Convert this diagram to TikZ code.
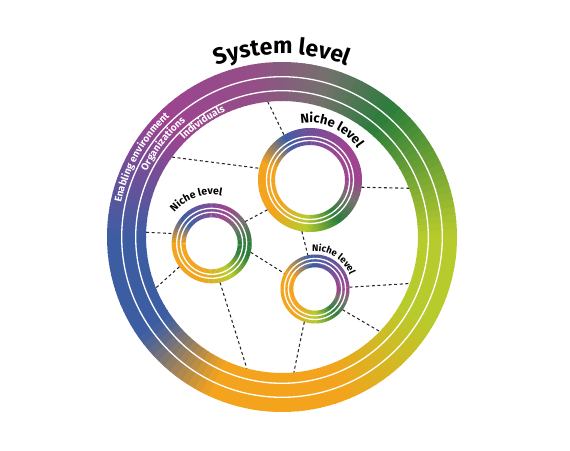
\documentclass[tikz,border=0pt]{standalone}
\usepackage{fontspec}
\newfontfamily\lblfont{Fira Sans}
\usetikzlibrary{decorations.text}
\definecolor{cyg}{HTML}{B8CB2C}
\definecolor{cgr}{HTML}{2B7D3B}
\definecolor{cgy}{HTML}{76706E}
\definecolor{cmg}{HTML}{9D4390}
\definecolor{cbl}{HTML}{3D5DA3}
\definecolor{cor}{HTML}{F3A31C}
\colorlet{cpu}{cbl!45!cmg}
\colorlet{cmv}{cmg!75!cgy}
\tikzset{dashlink/.style={draw=black!85,line width=1.05pt,dash pattern=on 3pt off 2.6pt},
  hub/.style={circle,inner sep=0pt,outer sep=0pt,minimum size=#1},
  splitline/.style={draw=white,line width=1.3pt},
  arctext/.style={decorate,decoration={text along path,text align=center,text={#1}}},
  bandtext/.style={decorate,decoration={text along path,text align=center,text color=white,text={#1}}}}
% ring with a conic colour gradient: centre, inner r, outer r, angle/angle/colour/colour list
\newcommand{\gradring}[4]{%
  \begin{scope}[shift={#1}]
    \foreach \a/\b/\ca/\cb in {#4}{
      \pgfmathtruncatemacro\n{max(1,round((\b-\a)/2.5))}
      \foreach \k in {1,...,\n}{
        \pgfmathsetmacro\angA{\a+(\k-1)*(\b-\a)/\n}
        \pgfmathsetmacro\angB{\a+\k*(\b-\a)/\n+0.4}
        \pgfmathtruncatemacro\p{100*(\k-0.5)/\n}
        \fill[fill=\cb!\p!\ca] (\angA:#2) arc[start angle=\angA,end angle=\angB,radius=#2]
          -- (\angB:#3) arc[start angle=\angB,end angle=\angA,radius=#3] -- cycle;
      }
    }
  \end{scope}}

\begin{document}
\begin{tikzpicture}[x=1pt,y=1pt]
  \useasboundingbox (0,0) rectangle (570,450);

  % system ring + niches
  \gradring{(282,213)}{136}{175}{0/50/cyg/cgr, 50/75/cgr/cgy, 75/100/cgy/cmv, 100/135/cmv/cmg, 135/180/cmg/cbl, 180/215/cbl/cbl, 215/245/cbl/cor, 245/290/cor/cor, 290/330/cor/cyg, 330/360/cyg/cyg}
  \gradring{(310,270)}{35}{52}{0/40/cmg/cmg, 40/90/cmg/cpu, 90/120/cpu/cbl, 120/160/cbl/cor, 160/220/cor/cor, 220/265/cor/cyg, 265/305/cyg/cgr, 305/335/cgr/cgy, 335/360/cgy/cmg}
  \gradring{(211.7,206.7)}{26}{40}{0/35/cgr/cgy, 35/65/cgy/cmg, 65/100/cmg/cpu, 100/140/cpu/cbl, 140/180/cbl/cor, 180/250/cor/cor, 250/300/cor/cyg, 300/340/cyg/cgr, 340/360/cgr/cgr}
  \gradring{(315,161)}{21.7}{34.5}{0/45/cmg/cpu, 45/100/cpu/cbl, 100/150/cbl/cor, 150/230/cor/cor, 230/270/cor/cyg, 270/310/cyg/cgr, 310/340/cgr/cgy, 340/360/cgy/cmg}

  % white separators
  \draw[splitline] (282,213) circle[radius=160.3] (282,213) circle[radius=146.3];
  \draw[splitline] (310,270) circle[radius=43.5] (310,270) circle[radius=39.5];
  \draw[splitline] (211.7,206.7) circle[radius=35] (211.7,206.7) circle[radius=31];
  \draw[splitline] (315,161) circle[radius=30.5] (315,161) circle[radius=26.7];

  % anchors
  \node (sys) [hub=272pt] at (282,213) {};
  \node (n1) [hub=104pt] at (310,270) {};
  \node (n2) [hub=80pt] at (211.7,206.7) {};
  \node (n3) [hub=69pt] at (315,161) {};

  % links
  \draw[dashlink] (sys.96) -- (n1.120);
  \draw[dashlink] (sys.144) -- (n1.167);
  \draw[dashlink] (n1.-8) -- (sys.21);
  \draw[dashlink] (n1.215) -- (n2.33);
  \draw[dashlink] (sys.178) -- (n2.166);
  \draw[dashlink] (n1.261) -- (n3.102);
  \draw[dashlink] (n2.-13) -- (n3.153);
  \draw[dashlink] (n2.216) -- (sys.202);
  \draw[dashlink] (n2.282) -- (sys.255);
  \draw[dashlink] (n3.252) -- (sys.275);
  \draw[dashlink] (n3.3) -- (sys.-20);
  \draw[dashlink] (n3.-37) -- (sys.-44);

  % labels
  \path[arctext={|\lblfont\bfseries\fontsize{23pt}{23pt}\selectfont|System level}]
    ([shift={(sys.center)}]150:183) arc[start angle=150,end angle=30,radius=183];
  \path[bandtext={|\lblfont\bfseries\fontsize{10pt}{10pt}\selectfont|Enabling environment}]
    ([shift={(sys.center)}]200:164.5) arc[start angle=200,end angle=101,radius=164.5];
  \path[bandtext={|\lblfont\bfseries\fontsize{10pt}{10pt}\selectfont|Organizations}]
    ([shift={(sys.center)}]190:150.3) arc[start angle=190,end angle=94,radius=150.3];
  \path[bandtext={|\lblfont\bfseries\fontsize{10pt}{10pt}\selectfont|Individuals}]
    ([shift={(sys.center)}]175:137.8) arc[start angle=175,end angle=74.4,radius=137.8];
  \path[arctext={|\lblfont\bfseries\fontsize{13pt}{13pt}\selectfont|Niche level}]
    ([shift={(n1.center)}]146.5:57) arc[start angle=146.5,end angle=-13.5,radius=57];
  \path[arctext={|\lblfont\bfseries\fontsize{10.5pt}{10.5pt}\selectfont|Niche level}]
    ([shift={(n2.center)}]189:48.5) arc[start angle=189,end angle=29,radius=48.5];
  \path[arctext={|\lblfont\bfseries\fontsize{9.5pt}{9.5pt}\selectfont|Niche level}]
    ([shift={(n3.center)}]138:37.5) arc[start angle=138,end angle=-22,radius=37.5];
\end{tikzpicture}
\end{document}
